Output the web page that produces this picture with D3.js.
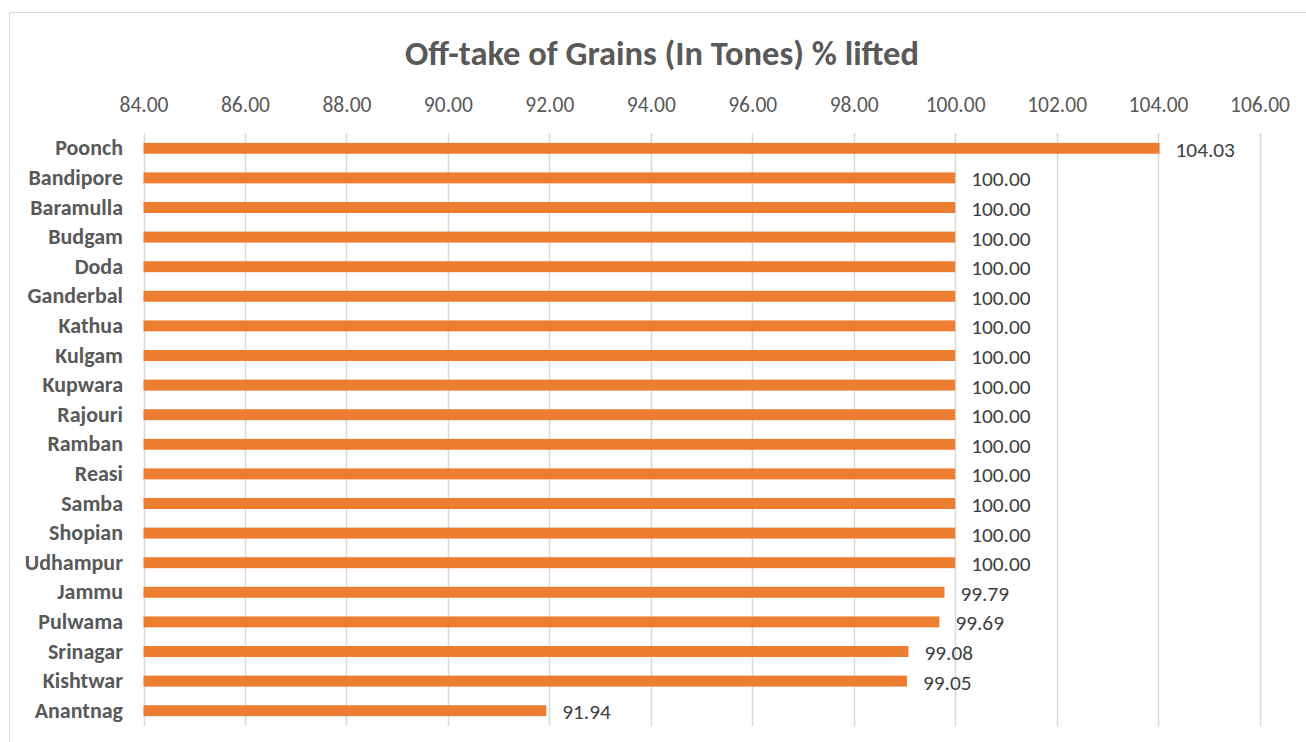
<!DOCTYPE html>
<html><head><meta charset="utf-8">
<script src="https://cdn.jsdelivr.net/npm/d3@7"></script>
<style>
html,body{margin:0;padding:0;background:#fff;}
svg{display:block;}
svg text{font-family:Carlito,Lato,"Open Sans",sans-serif;}
</style></head>
<body>
<svg id="c" width="1306" height="742"></svg>
<script>
const districts = ["Poonch","Bandipore","Baramulla","Budgam","Doda","Ganderbal","Kathua","Kulgam","Kupwara","Rajouri","Ramban","Reasi","Samba","Shopian","Udhampur","Jammu","Pulwama","Srinagar","Kishtwar","Anantnag"];
const pctLifted = [104.03,100.00,100.00,100.00,100.00,100.00,100.00,100.00,100.00,100.00,100.00,100.00,100.00,100.00,100.00,99.79,99.69,99.08,99.05,91.94];
const xTicks = [84,86,88,90,92,94,96,98,100,102,104,106];
const title = "Off-take of Grains (In Tones) % lifted";

const svg = d3.select("#c");
svg.append("path").attr("d","M9.5,742 V12.5 H1306").attr("fill","none").attr("stroke","#d9d9d9").attr("stroke-width",1);

const x = d3.scaleLinear().domain([84,106]).range([143.5,1259.5]);
const y = d3.scaleBand().domain(districts).range([133.5,725.5]).paddingInner(0.63).paddingOuter(0.315);

svg.append("text").attr("x",662).attr("y",65).attr("text-anchor","middle")
  .attr("font-size",34.5).attr("font-weight","bold").attr("fill","#595959").text(title);

const grid = svg.append("g");
grid.selectAll("line").data(xTicks).join("line")
  .attr("x1",d=>Math.round(x(d))+0.5).attr("x2",d=>Math.round(x(d))+0.5)
  .attr("y1",133).attr("y2",726).attr("stroke","#d9d9d9").attr("stroke-width",1.5);

const ax = svg.append("g").attr("transform","translate(0,112)")
  .call(d3.axisTop(x).tickValues(xTicks).tickFormat(d3.format(".2f")).tickSize(0).tickPadding(0));
ax.attr("font-family",null).attr("font-size",null);
ax.select(".domain").remove();
ax.selectAll("text").attr("font-size",21.5).attr("fill","#595959");

svg.append("g").selectAll("rect").data(districts).join("rect")
  .attr("x",x(84)).attr("y",d=>y(d)).attr("height",y.bandwidth())
  .attr("width",(d,i)=>x(pctLifted[i])-x(84)).attr("fill","#ED7D31");

const ay = svg.append("g").attr("transform","translate(123,0)")
  .call(d3.axisLeft(y).tickSize(0).tickPadding(0));
ay.attr("font-family",null).attr("font-size",null);
ay.select(".domain").remove();
ay.selectAll("text").attr("font-size",22).attr("font-weight","bold").attr("fill","#595959");

svg.append("g").selectAll("text").data(districts).join("text")
  .attr("x",(d,i)=>x(pctLifted[i])+16).attr("y",d=>y(d)+y.bandwidth()/2+8.5)
  .attr("font-size",21.3).attr("fill","#404040")
  .text((d,i)=>d3.format(".2f")(pctLifted[i]));
</script>
</body></html>
